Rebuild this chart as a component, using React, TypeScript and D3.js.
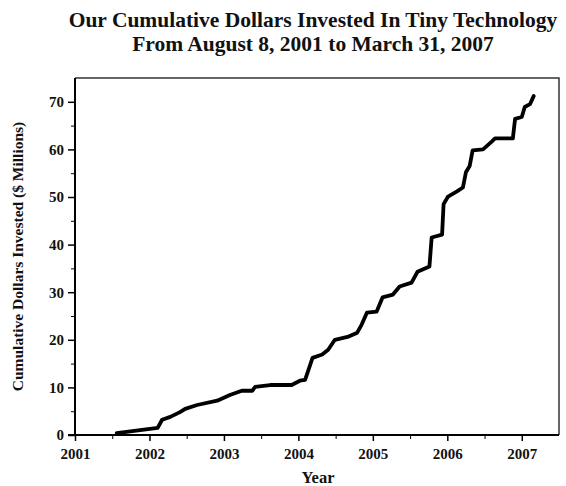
import React, { useEffect, useRef } from "react";
import { select, scaleLinear, axisLeft, axisBottom, line, range } from "d3";

// time (decimal year) and cumulative $ millions
const years = [
  2001.56, 2002.11, 2002.17, 2002.28, 2002.41, 2002.48, 2002.64, 2002.91,
  2003.08, 2003.24, 2003.38, 2003.42, 2003.62, 2003.91, 2004.02, 2004.09,
  2004.19, 2004.32, 2004.4, 2004.49, 2004.66, 2004.79, 2004.85, 2004.92,
  2005.05, 2005.13, 2005.27, 2005.36, 2005.52, 2005.6, 2005.76, 2005.79,
  2005.93, 2005.95, 2006.01, 2006.13, 2006.21, 2006.25, 2006.3, 2006.34,
  2006.48, 2006.6, 2006.64, 2006.88, 2006.91, 2007.0, 2007.04, 2007.11,
  2007.16,
];
const invested = [
  0.4, 1.5, 3.2, 3.8, 4.8, 5.5, 6.3, 7.2, 8.4, 9.3, 9.3, 10.1, 10.5, 10.5,
  11.4, 11.6, 16.2, 16.9, 17.9, 20.0, 20.6, 21.5, 23.2, 25.7, 25.9, 28.9,
  29.5, 31.2, 32.0, 34.3, 35.4, 41.5, 42.1, 48.5, 50.1, 51.2, 52.0, 55.2,
  56.5, 59.8, 60.0, 61.7, 62.3, 62.3, 66.4, 66.8, 68.9, 69.5, 71.2,
];
const yearTicks = [2001, 2002, 2003, 2004, 2005, 2006, 2007];
const valueTicks = [0, 10, 20, 30, 40, 50, 60, 70];

const titleLines = [
  "Our Cumulative Dollars Invested In Tiny Technology",
  "From August 8, 2001 to March 31, 2007",
];

const W = 566;
const H = 486;
const left = 75;
const right = 559;
const top = 78;
const bottom = 435;
const font = "'Liberation Serif', 'Times New Roman', serif";

const App = () => {
  const svgRef = useRef<SVGSVGElement | null>(null);

  useEffect(() => {
    const svg = select(svgRef.current);
    svg.selectAll("*").remove();

    const x = scaleLinear().domain([2001, 2007.5]).range([left, right]);
    const y = scaleLinear().domain([0, 75]).range([bottom, top]);

    // title
    svg
      .append("g")
      .selectAll("text")
      .data(titleLines)
      .enter()
      .append("text")
      .attr("x", 313)
      .attr("y", (_, i) => 27 + i * 24)
      .attr("text-anchor", "middle")
      .attr("font-family", font)
      .attr("font-weight", "bold")
      .attr("font-size", 21.5)
      .attr("fill", "#111")
      .text((d) => d);

    // frame top / right
    svg
      .append("path")
      .attr("d", `M${left},${top}H${right}V${bottom}`)
      .attr("fill", "none")
      .attr("stroke", "#333")
      .attr("stroke-width", 1.5);

    // minor ticks
    const minorX = axisBottom(x)
      .tickValues(range(2001.5, 2007.5, 1))
      .tickSize(4)
      .tickFormat(() => "");
    svg
      .append("g")
      .attr("transform", `translate(0, ${bottom})`)
      .call(minorX)
      .call((g) => g.select(".domain").remove());
    const minorY = axisLeft(y)
      .tickValues(range(5, 75, 10))
      .tickSize(4)
      .tickFormat(() => "");
    svg
      .append("g")
      .attr("transform", `translate(${left}, 0)`)
      .call(minorY)
      .call((g) => g.select(".domain").remove());

    // x axis
    const xAxis = axisBottom(x)
      .tickValues(yearTicks)
      .tickSize(6)
      .tickPadding(7)
      .tickFormat((d) => `${d}`);
    const xg = svg
      .append("g")
      .attr("transform", `translate(0, ${bottom})`)
      .call(xAxis);
    xg.select(".domain").attr("d", `M${left - 7},0H${right}`).attr("stroke-width", 2);
    xg.selectAll("line").attr("stroke-width", 1.5);
    xg.selectAll("text")
      .attr("font-family", font)
      .attr("font-weight", "bold")
      .attr("font-size", 15)
      .attr("fill", "#111");

    // y axis
    const yAxis = axisLeft(y).tickValues(valueTicks).tickSize(7).tickPadding(4);
    const yg = svg
      .append("g")
      .attr("transform", `translate(${left}, 0)`)
      .call(yAxis);
    yg.select(".domain").attr("d", `M0,${top}V${bottom}`).attr("stroke-width", 2);
    yg.selectAll("line").attr("stroke-width", 1.5);
    yg.selectAll("text")
      .attr("font-family", font)
      .attr("font-weight", "bold")
      .attr("font-size", 15)
      .attr("fill", "#111");

    // axis titles
    svg
      .append("text")
      .attr("x", 318)
      .attr("y", 483)
      .attr("text-anchor", "middle")
      .attr("font-family", font)
      .attr("font-weight", "bold")
      .attr("font-size", 16.5)
      .attr("fill", "#111")
      .text("Year");
    svg
      .append("text")
      .attr("transform", `translate(23, ${(top + bottom) / 2}) rotate(-90)`)
      .attr("text-anchor", "middle")
      .attr("font-family", font)
      .attr("font-weight", "bold")
      .attr("font-size", 15.5)
      .attr("fill", "#111")
      .text("Cumulative Dollars Invested ($ Millions)");

    // the line
    const pts = years.map((yr, i) => [yr, invested[i]] as [number, number]);
    const path = line<[number, number]>()
      .x((d) => x(d[0]))
      .y((d) => y(d[1]));
    svg
      .append("path")
      .datum(pts)
      .attr("d", path)
      .attr("fill", "none")
      .attr("stroke", "#000")
      .attr("stroke-width", 3.8)
      .attr("stroke-linejoin", "round")
      .attr("stroke-linecap", "round");
  }, []);

  return (
    <svg
      ref={svgRef}
      width={W}
      height={H}
      style={{ position: "absolute", left: 0, top: 0, background: "#fff" }}
    />
  );
};

export default App;
